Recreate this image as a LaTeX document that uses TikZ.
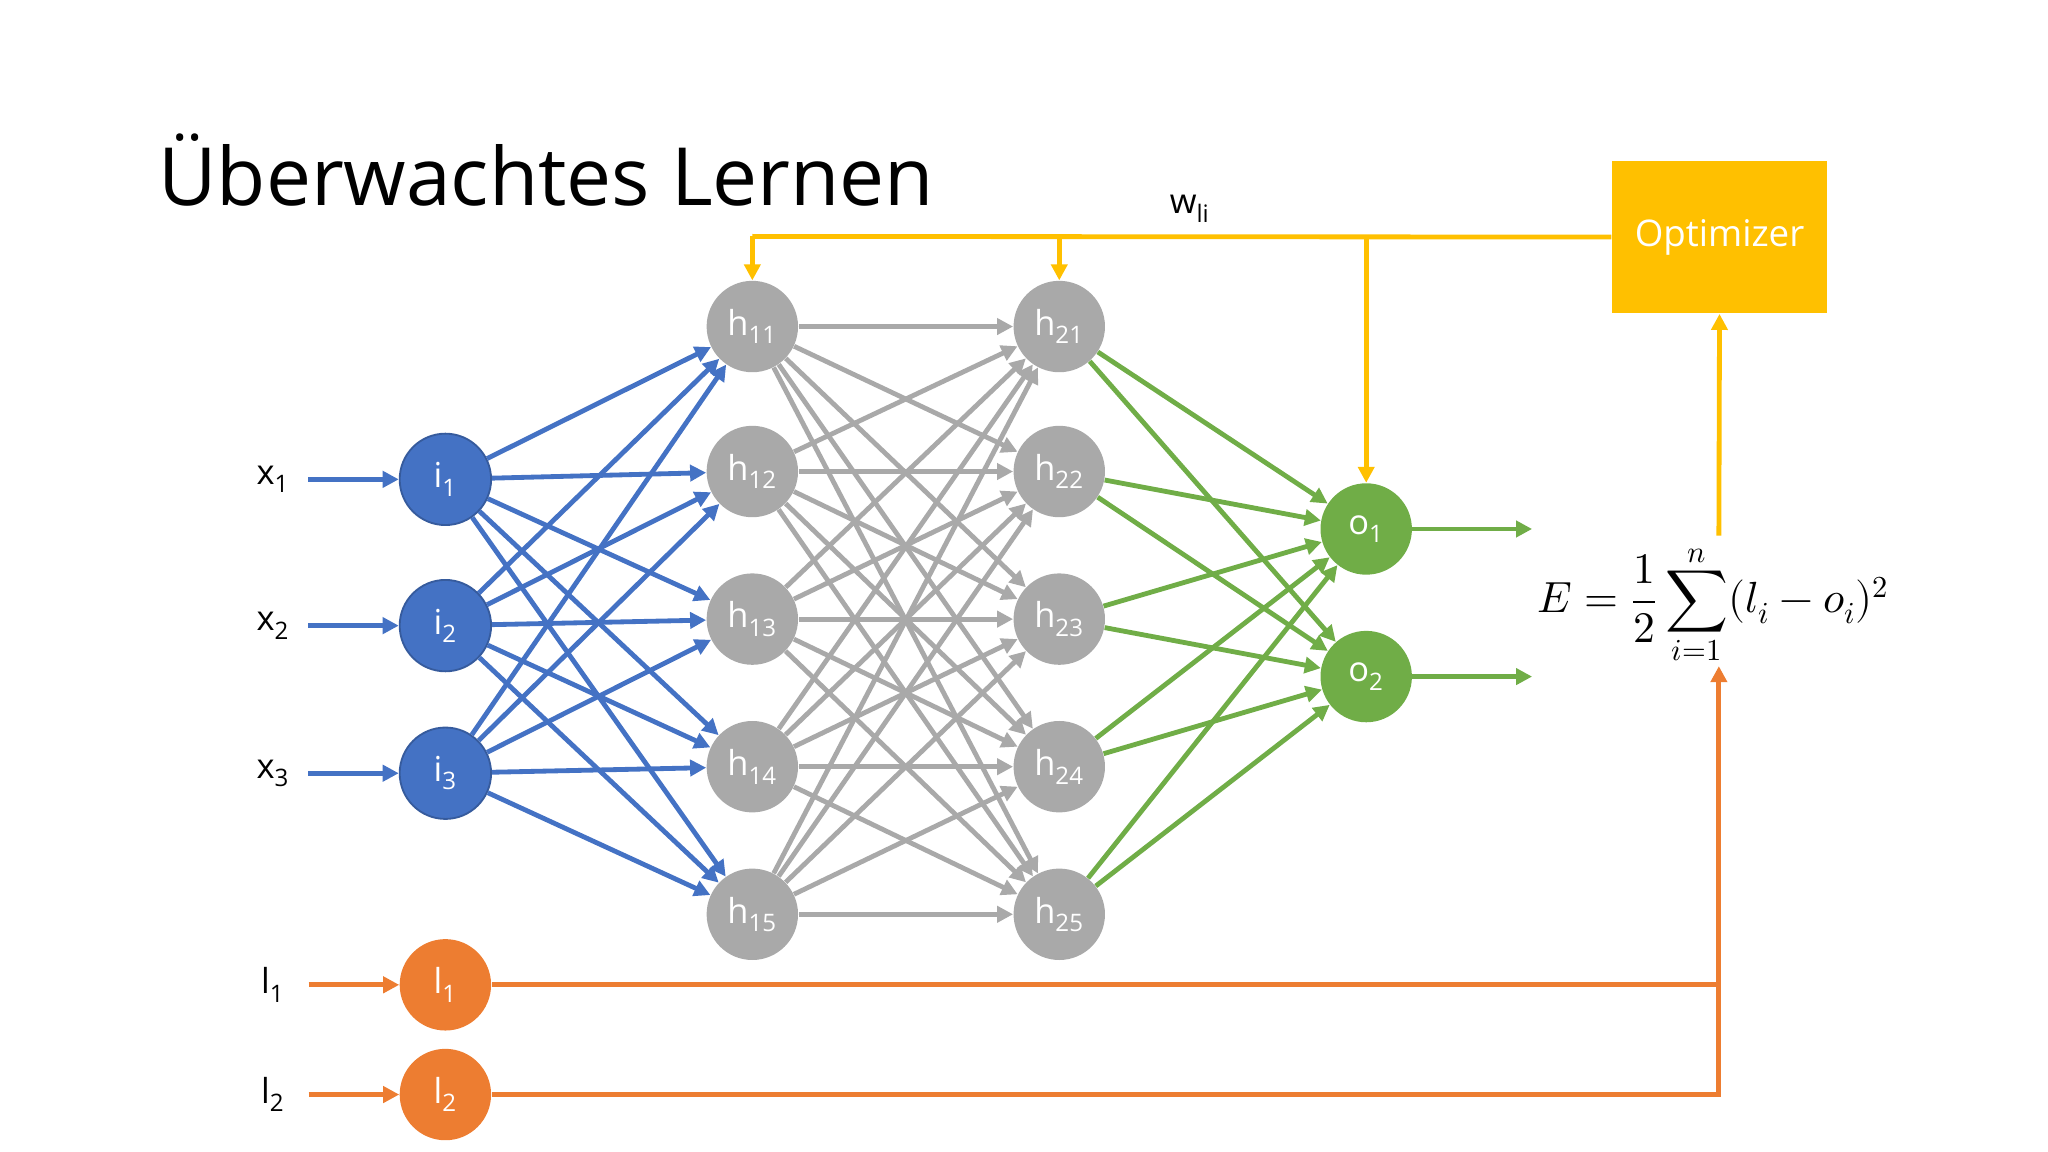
\documentclass[tikz,border=0pt]{standalone}
\usepackage{fontspec}
\setmainfont{Open Sans}
\usepackage{unicode-math}
\setmathfont{Latin Modern Math}
\usetikzlibrary{arrows.meta}
\definecolor{cblue}{HTML}{4472C4}
\definecolor{cgray}{HTML}{A9A9A9}
\definecolor{cgreen}{HTML}{70AD47}
\definecolor{corange}{HTML}{ED7D31}
\definecolor{cyellow}{HTML}{FFC000}
\begin{document}
\begin{tikzpicture}[x=0.02cm,y=-0.02cm,
  neuron/.style={circle,minimum size=1.4cm,inner sep=0pt,text=white,font=\fontsize{15}{18}\selectfont},
  lab/.style={font=\fontsize{15}{18}\selectfont},
  con/.style={line width=2.1pt,-{Triangle[length=7pt,width=7pt]}},
  plain/.style={line width=2.1pt}]
\useasboundingbox (0,0) rectangle (1568,882);
\node[anchor=west,font=\fontsize{35}{40}\selectfont] (title) at (115,130) {Überwachtes Lernen};
% input layer
\foreach \k/\y in {1/367,2/479,3/592}{
  \node[neuron,fill=cblue,draw=cblue!80!black,thick] (i\k) at (341,\y) {i\textsubscript{\k}};
  \node[lab] (x\k) at (209,\y) {x\textsubscript{\k}};
  \draw[con,cblue] (x\k.east)++(8,0) coordinate (xs\k) -- (i\k);
}
\foreach \k/\y in {1/250,2/361,3/474,4/587,5/700}{
  \node[neuron,fill=cgray] (h1\k) at (576,\y) {h\textsubscript{1\k}};
  \node[neuron,fill=cgray] (h2\k) at (811,\y) {h\textsubscript{2\k}};
}
\foreach \k/\y in {1/405,2/518}{
  \node[neuron,fill=cgreen] (o\k) at (1046,\y) {o\textsubscript{\k}};
  \coordinate (oe\k) at (1173,\y);
  \draw[con,cgreen] (o\k) -- (oe\k);
}
\foreach \a in {1,2,3}{\foreach \b in {1,...,5}{\draw[con,cblue] (i\a) -- (h1\b);}}
\foreach \a in {1,...,5}{\foreach \b in {1,...,5}{\draw[con,cgray] (h1\a) -- (h2\b);}}
\foreach \a in {1,...,5}{\foreach \b in {1,2}{\draw[con,cgreen] (h2\a) -- (o\b);}}
% labels
\foreach \k/\y in {1/754,2/838}{
  \node[neuron,fill=corange] (l\k) at (341,\y) {l\textsubscript{\k}};
  \node[lab] (lx\k) at (209,\y) {l\textsubscript{\k}};
  \draw[con,corange] (lx\k.east)++(12,0) -- (l\k);
}
\node (E) at (1312,463) {\fontsize{19}{22}\selectfont$E=\dfrac{1}{2}\displaystyle\sum_{i=1}^{n}(l_i-o_i)^2$};
\coordinate (eb) at (1316,510);
\coordinate (et) at (1316,410);
\coordinate (c1) at (1316,754);
\coordinate (c2) at (1316,838);
\draw[plain,corange] (l1) -- (c1);
\draw[plain,corange] (l2) -- (c2) -- (c1);
\draw[con,corange] (c1) -- (eb);
\node[fill=cyellow,minimum width=3.3cm,minimum height=2.34cm,text=white,font=\fontsize{16}{20}\selectfont] (opt) at (1316.5,181.5) {Optimizer};
\draw[con,cyellow] (et) -- (opt.south);
\coordinate (ya) at (576,181);
\coordinate (yb) at (811,181);
\coordinate (yc) at (1046,181);
\draw[plain,cyellow] (opt.west) -- (ya);
\draw[con,cyellow] (ya) -- (h11);
\draw[con,cyellow] (yb) -- (h21);
\draw[con,cyellow] (yc) -- (o1);
\node[lab] (wli) at (911,160) {w\textsubscript{li}};
\end{tikzpicture}
\end{document}
